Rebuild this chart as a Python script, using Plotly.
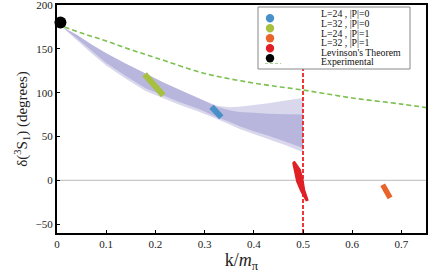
import plotly.graph_objects as go

# Experimental curve
k_exp = [0.0, 0.05, 0.1, 0.15, 0.2, 0.3, 0.4, 0.5, 0.6, 0.7, 0.75]
d_exp = [178, 168, 159, 149, 140, 122, 111, 103, 94, 87, 83]

# Band (outer, light) and inner (dark)
k_band = [0.007, 0.02, 0.04, 0.07, 0.1, 0.14, 0.18, 0.215, 0.25, 0.29, 0.325,
          0.35, 0.37, 0.4, 0.43, 0.465, 0.5]
outer_hi = [177, 172, 166, 155, 145, 133, 122, 112, 103, 93, 85, 83.5, 84, 86, 88, 91, 94]
outer_lo = [177, 170, 160, 145, 131, 116, 102, 94, 86, 78, 70, 64, 59, 53, 47, 40, 32]
inner_hi = [177, 172, 166, 155, 145, 133, 122, 112, 103, 93, 84, 80, 78, 77, 76, 75.5, 75]
inner_lo = [177, 171, 162, 148, 134, 119, 105, 97, 89, 81, 72, 67, 62, 56, 51, 44, 37]

# Lattice results (error segments)
k_L24_P0 = [0.314, 0.334]
d_L24_P0 = [84, 72]
k_L32_P0 = [0.178, 0.216]
d_L32_P0 = [121, 97]
k_L24_P1 = [0.662, 0.677]
d_L24_P1 = [-5, -20]
k_L32_P1 = [0.4794, 0.4828, 0.4875, 0.4963, 0.5065, 0.5098, 0.5030, 0.4996, 0.4943, 0.4828, 0.4794]
d_L32_P1 = [20.3, 10, -1.4, -12.8, -23, -22.3, -10.9, 0.5, 12, 21.4, 20.3]

# Levinson point
k_lev = [0.007]
d_lev = [180]

k_cut = 0.5

yticks = [-50, 0, 50, 100, 150, 200]
xticks = [0, 0.1, 0.2, 0.3, 0.4, 0.5, 0.6, 0.7]

legend_labels = ["L=24 , |P|=0", "L=32 , |P|=0", "L=24 , |P|=1", "L=32 , |P|=1",
                 "Levinson's Theorem", "Experimental"]
legend_colors = ["#4a90c8", "#a8c040", "#e8642a", "#e02025", "#000000", "#a8d890"]

SERIF = "Liberation Serif"

fig = go.Figure()

# zero line
fig.add_trace(go.Scatter(x=[0, 0.75], y=[0, 0], mode="lines",
                         line=dict(color="#c8c8c8", width=1.2), hoverinfo="skip"))

# outer band
fig.add_trace(go.Scatter(x=k_band + k_band[::-1], y=outer_hi + outer_lo[::-1],
                         fill="toself", fillcolor="#d8d7ec", mode="none"))
# inner band
fig.add_trace(go.Scatter(x=k_band + k_band[::-1], y=inner_hi + inner_lo[::-1],
                         fill="toself", fillcolor="#b8b6dc", mode="none"))

# experimental
fig.add_trace(go.Scatter(x=k_exp, y=d_exp, mode="lines", line_shape="spline",
                         line=dict(color="#7cc050", width=1.6, dash="5px,3px")))

# vertical cut
fig.add_trace(go.Scatter(x=[k_cut, k_cut], y=[-60, 200], mode="lines",
                         line=dict(color="#ee2222", width=1.8, dash="4px,2px")))

# lattice segments
fig.add_trace(go.Scatter(x=k_L32_P0, y=d_L32_P0, mode="lines",
                         line=dict(color=legend_colors[1], width=6)))
fig.add_trace(go.Scatter(x=k_L24_P0, y=d_L24_P0, mode="lines",
                         line=dict(color=legend_colors[0], width=6)))
fig.add_trace(go.Scatter(x=k_L24_P1, y=d_L24_P1, mode="lines",
                         line=dict(color=legend_colors[2], width=5.5)))
fig.add_trace(go.Scatter(x=k_L32_P1, y=d_L32_P1, mode="lines", fill="toself",
                         fillcolor=legend_colors[3],
                         line=dict(color=legend_colors[3], width=1.5)))

# Levinson
fig.add_trace(go.Scatter(x=k_lev, y=d_lev, mode="markers", cliponaxis=False,
                         marker=dict(color="black", size=12)))

# manual legend
L, R, T, B = 258, 410, 7, 69
pw, ph = 369, 228
def px2paper(x, y):
    return (x - 57) / pw, 1 - (y - 5) / ph

x0, y0 = px2paper(L, B)
x1, y1 = px2paper(R, T)
fig.add_shape(type="rect", xref="paper", yref="paper", x0=x0, y0=y0, x1=x1, y1=y1,
              line=dict(color="#888888", width=1), fillcolor="white", layer="above")
marker_y = [18.3, 28.3, 38.3, 48.3, 58.3]
text_y = [13.3, 23.3, 33.3, 43.0, 52.3, 61.7]
for i, my in enumerate(marker_y):
    cx, cy = px2paper(270, my)
    fig.add_shape(type="circle", xref="paper", yref="paper", xsizemode="pixel",
                  ysizemode="pixel", xanchor=cx, yanchor=cy, x0=-4.2, x1=4.2,
                  y0=-4.2, y1=4.2, fillcolor=legend_colors[i], line=dict(width=0),
                  layer="above")
ex0, ey = px2paper(265, 63.5)
ex1, _ = px2paper(281, 63.5)
fig.add_shape(type="line", xref="paper", yref="paper", x0=ex0, x1=ex1, y0=ey, y1=ey,
              line=dict(color=legend_colors[5], width=1, dash="3px,2px"), layer="above")
for lab, ty in zip(legend_labels, text_y):
    tx, tyy = px2paper(319, ty)
    fig.add_annotation(x=tx, y=tyy, xref="paper", yref="paper", text=lab,
                       showarrow=False, xanchor="left", yanchor="middle",
                       font=dict(family=SERIF, size=9.8, color="#111"))

fig.update_layout(
    width=443, height=277,
    margin=dict(l=57, r=17, t=5, b=44),
    paper_bgcolor="white", plot_bgcolor="white",
    showlegend=False,
    font=dict(family=SERIF, color="#222"),
    xaxis=dict(range=[0, 0.75], tickvals=xticks, ticktext=[str(v) if v else "0" for v in xticks],
               showgrid=False, zeroline=False, showline=True, linecolor="black",
               linewidth=2, mirror=True, ticks="inside", ticklen=3, tickcolor="black",
               automargin=False, ticklabeloverflow="allow",
               tickfont=dict(size=11, family=SERIF),
               title=dict(text="k/<i>m</i><sub>π</sub>", font=dict(size=18, family=SERIF), standoff=4)),
    yaxis=dict(range=[-60, 200], tickvals=yticks, showgrid=False, zeroline=False,
               showline=True, linecolor="black", linewidth=2, mirror=True,
               ticks="inside", ticklen=3, tickcolor="black", automargin=False,
               ticklabeloverflow="allow",
               tickfont=dict(size=11, family=SERIF),
               title=dict(text="δ(<sup>3</sup>S<sub>1</sub>) (degrees)",
                          font=dict(size=15, family=SERIF), standoff=4)),
)

fig.write_html("out.html", config={"displayModeBar": False},
               post_script="document.body.style.margin='0';")
